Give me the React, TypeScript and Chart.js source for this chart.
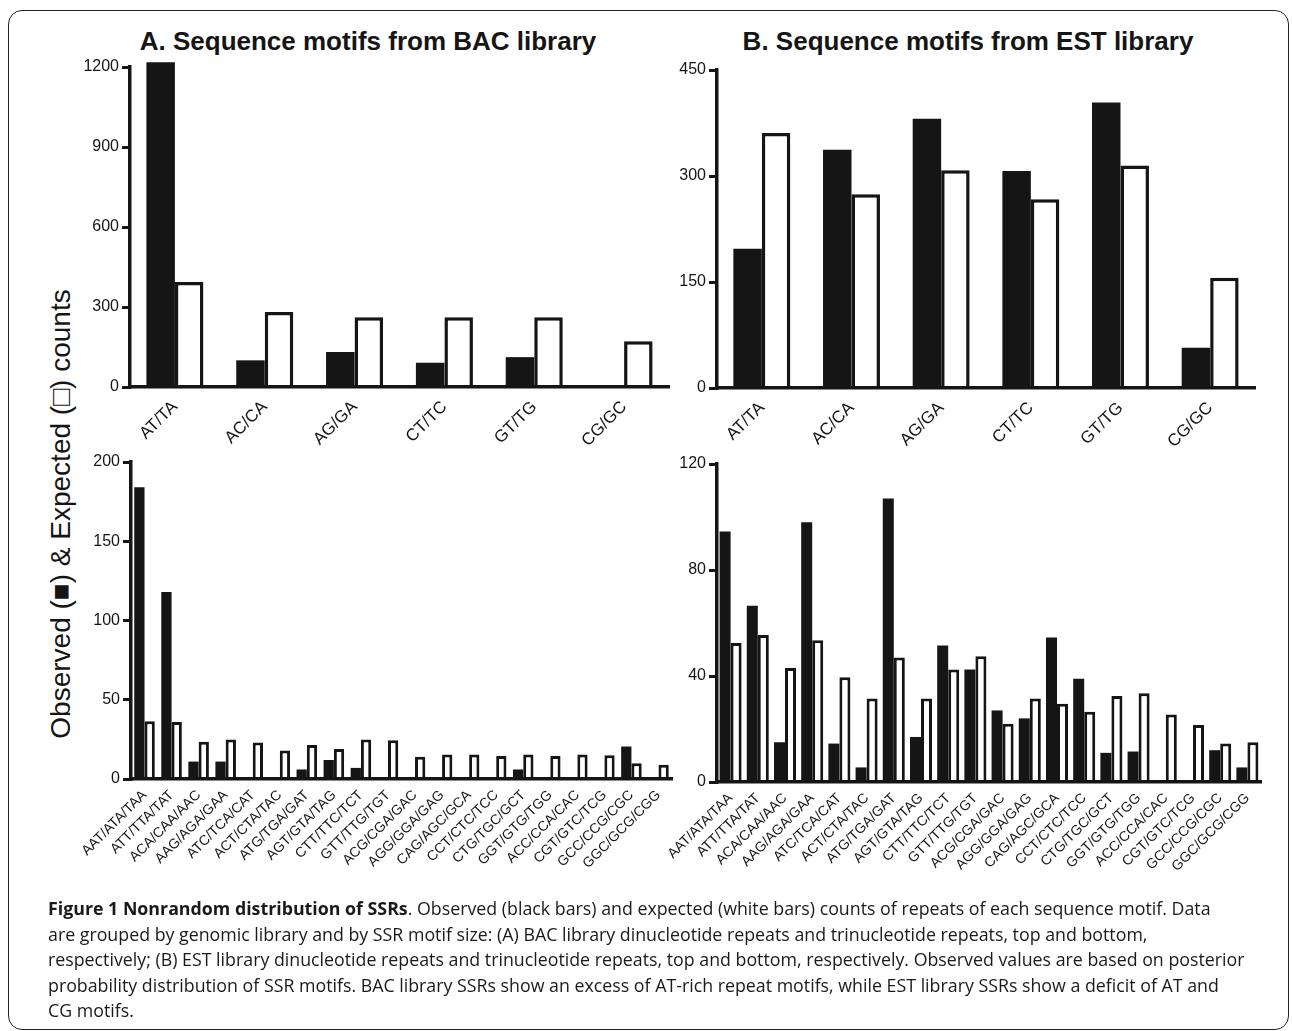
import React, { useEffect, useRef } from 'react';
import { Chart, registerables } from 'chart.js';

Chart.register(...registerables);

const INK = '#151515';
const SANS = "'Liberation Sans', Arial, Helvetica, sans-serif";

// ---- categories ----
const dinucLabels = ['AT/TA', 'AC/CA', 'AG/GA', 'CT/TC', 'GT/TG', 'CG/GC'];
const trinucLabels = [
  'AAT/ATA/TAA', 'ATT/TTA/TAT', 'ACA/CAA/AAC', 'AAG/AGA/GAA', 'ATC/TCA/CAT',
  'ACT/CTA/TAC', 'ATG/TGA/GAT', 'AGT/GTA/TAG', 'CTT/TTC/TCT', 'GTT/TTG/TGT',
  'ACG/CGA/GAC', 'AGG/GGA/GAG', 'CAG/AGC/GCA', 'CCT/CTC/TCC', 'CTG/TGC/GCT',
  'GGT/GTG/TGG', 'ACC/CCA/CAC', 'CGT/GTC/TCG', 'GCC/CCG/CGC', 'GGC/GCG/CGG',
];

// ---- A. BAC library ----
const bacDiObserved = [1218, 100, 131, 91, 112, 0];
const bacDiExpected = [394, 281, 262, 262, 262, 172];
const bacTriObserved = [184, 118, 11, 11, 0, 0, 6, 12, 7, 0, 0, 0, 0, 0, 6, 0, 0, 0, 20.5, 0];
const bacTriExpected = [36.5, 36, 23.5, 25, 23, 18, 21.5, 19, 25, 24.5, 14, 15.5, 15.5, 14.5, 15.5, 14.5, 15.5, 15, 10, 9];

// ---- B. EST library ----
const estDiObserved = [197, 337, 381, 307, 404, 57];
const estDiExpected = [361, 274, 308, 267, 315, 156];
const estTriObserved = [94.5, 66.5, 15, 98, 14.5, 5.5, 107, 17, 51.5, 42.5, 27, 24, 54.5, 39, 11, 11.5, 0, 0, 12, 5.5];
const estTriExpected = [52.5, 55.5, 43, 53.5, 39.5, 31.5, 47, 31.5, 42.5, 47.5, 22, 31.5, 29.5, 26.5, 32.5, 33.5, 25.5, 21.5, 14.5, 15];

// ---- y axis tick settings ----
const bacDiAxis = { max: 1200, step: 300 };
const estDiAxis = { max: 450, step: 150 };
const bacTriAxis = { max: 200, step: 50 };
const estTriAxis = { max: 120, step: 40 };

const titleA = 'A. Sequence motifs from BAC library';
const titleB = 'B. Sequence motifs from EST library';
const yTitle = 'Observed (\u25A0) & Expected (\u25A1) counts';
const captionLines = [
  ' Observed (black bars) and expected (white bars) counts of repeats of each sequence motif. Data',
  'are grouped by genomic library and by SSR motif size: (A) BAC library dinucleotide repeats and trinucleotide repeats, top and bottom,',
  'respectively; (B) EST library dinucleotide repeats and trinucleotide repeats, top and bottom, respectively. Observed values are based on posterior',
  'probability distribution of SSR motifs. BAC library SSRs show an excess of AT-rich repeat motifs, while EST library SSRs show a deficit of AT and',
  'CG motifs.',
];

type PanelProps = {
  left: number; top: number; right: number; bottom: number;
  labels: string[]; observed: number[]; expected: number[];
  axis: { max: number; step: number };
  xFont: number; xPad: number; catPct: number; border: number;
};

const YW = 110, PT = 20, PR = 12, XH = 120;

function Panel(p: PanelProps) {
  const ref = useRef<HTMLCanvasElement>(null);
  const w = YW + (p.right - p.left) + PR;
  const h = PT + (p.bottom - p.top) + XH;
  useEffect(() => {
    const chart = new Chart(ref.current as HTMLCanvasElement, {
      type: 'bar',
      data: {
        labels: p.labels,
        datasets: [
          { label: 'Observed', data: p.observed, backgroundColor: INK, borderWidth: 0, clip: false as any },
          { label: 'Expected', data: p.expected, backgroundColor: '#ffffff', borderColor: INK, borderWidth: p.border, borderSkipped: 'start', clip: false as any },
        ],
      },
      options: {
        animation: false,
        responsive: false,
        maintainAspectRatio: false,
        layout: { padding: { top: PT, right: PR, left: 0, bottom: 0 } },
        plugins: { legend: { display: false }, tooltip: { enabled: false }, title: { display: false } },
        datasets: { bar: { barPercentage: 1, categoryPercentage: p.catPct } },
        scales: {
          x: {
            grid: { display: false, drawTicks: false },
            border: { display: true, color: INK, width: 3.5, z: 1 },
            ticks: { autoSkip: false, maxRotation: 45, minRotation: 45, padding: p.xPad, color: INK, font: { family: SANS, size: p.xFont } },
            afterFit: (s: any) => { s.height = XH; },
          },
          y: {
            min: 0, max: p.axis.max,
            ticks: { stepSize: p.axis.step, color: INK, padding: 3, font: { family: SANS, size: 16 }, callback: (v: any) => String(v) },
            grid: { display: true, drawOnChartArea: false, drawTicks: true, tickLength: 8, lineWidth: 3, color: INK },
            border: { display: true, color: INK, width: 3.5, z: 1 },
            afterFit: (s: any) => { s.width = YW; },
          },
        },
      },
    });
    return () => chart.destroy();
  }, []);
  return (
    <canvas
      ref={ref}
      width={w}
      height={h}
      style={{ position: 'absolute', left: p.left - YW, top: p.top - PT, width: w, height: h }}
    />
  );
}

export default function App() {
  useEffect(() => { document.body.style.margin = '0'; }, []);
  const titleStyle: React.CSSProperties = {
    position: 'absolute', top: 26, width: 600, textAlign: 'center', font: `bold 26px ${SANS}`,
    color: INK, lineHeight: '30px', whiteSpace: 'nowrap',
  };
  return (
    <div style={{ position: 'relative', width: 1292, height: 1031, background: '#fff', overflow: 'hidden' }}>
      <div style={{ position: 'absolute', left: 8, top: 10, width: 1281, height: 1020, border: '1.5px solid #222', borderRadius: 14, boxSizing: 'border-box' }} />
      <div style={{ ...titleStyle, left: 368 - 300 }}>{titleA}</div>
      <div style={{ ...titleStyle, left: 968 - 300 }}>{titleB}</div>
      <div style={{
        position: 'absolute', left: 61, top: 514, transform: 'translate(-50%, -50%) rotate(-90deg)',
        font: `28px ${SANS}`, color: INK, whiteSpace: 'nowrap', lineHeight: '32px',
      }}>{yTitle}</div>
      <Panel left={130} top={67} right={669} bottom={387} labels={dinucLabels} observed={bacDiObserved} expected={bacDiExpected}
        axis={bacDiAxis} xFont={17} xPad={10} catPct={0.635} border={3.5} />
      <Panel left={717} top={70} right={1255} bottom={388} labels={dinucLabels} observed={estDiObserved} expected={estDiExpected}
        axis={estDiAxis} xFont={17} xPad={10} catPct={0.635} border={3.5} />
      <Panel left={131} top={462} right={672} bottom={779} labels={trinucLabels} observed={bacTriObserved} expected={bacTriExpected}
        axis={bacTriAxis} xFont={14} xPad={8} catPct={0.76} border={3} />
      <Panel left={717} top={464} right={1261} bottom={782} labels={trinucLabels} observed={estTriObserved} expected={estTriExpected}
        axis={estTriAxis} xFont={14} xPad={8} catPct={0.81} border={3} />
      <div style={{ position: 'absolute', left: 48, top: 896, font: `17.8px 'Open Sans', 'Noto Sans', sans-serif`, color: '#1a1a1a', lineHeight: '25.5px', whiteSpace: 'nowrap' }}>
        {captionLines.map((line, i) => (
          <div key={i}>
            {i === 0 ? <b>Figure 1 Nonrandom distribution of SSRs</b> : null}
            {i === 0 ? '.' : null}
            {line}
          </div>
        ))}
      </div>
    </div>
  );
}
